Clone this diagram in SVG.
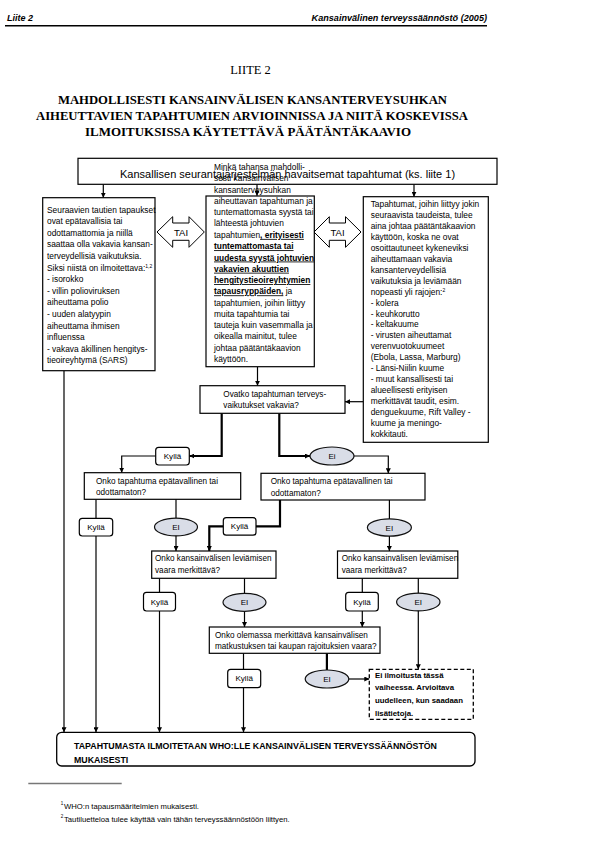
<svg xmlns="http://www.w3.org/2000/svg" width="593" height="844" viewBox="0 0 593 844">
<defs>
<style>
text{font-family:"Liberation Sans",Arial,sans-serif;fill:#000}
.serif{font-family:"Liberation Serif","Times New Roman",serif;font-weight:bold}
.box{fill:#fff;stroke:#000;stroke-width:1.2}
.lbl{fill:#fff;stroke:#000;stroke-width:1.2}
.ell{fill:#d9dde7;stroke:#111;stroke-width:1.2}
.ln{fill:none;stroke:#000;stroke-width:1.2}
.thk{stroke-width:2.2}
.body{font-size:8.4px}
.dq{font-size:8.2px}
.yes{font-size:8.1px;text-anchor:middle}
.no{font-size:8px;text-anchor:middle}
.bu{font-weight:bold;text-decoration:underline}
.sup{font-size:5px}
</style>
<marker id="ah" viewBox="0 0 10 10" refX="10" refY="5" markerWidth="5" markerHeight="5" markerUnits="userSpaceOnUse" orient="auto"><path d="M0,0 L10,5 L0,10 z" fill="#000"/></marker>
</defs>
<rect width="593" height="844" fill="#fff"/>

<g id="header">
<text x="7" y="20.7" font-size="9" font-weight="bold" font-style="italic">Liite 2</text>
<text x="487" y="20.7" font-size="9.1" font-weight="bold" font-style="italic" text-anchor="end">Kansainvälinen terveyssäännöstö (2005)</text>
<line x1="5" y1="25.7" x2="487" y2="25.7" stroke="#000" stroke-width="1.5"/>
</g>

<g id="title">
<text class="serif" x="250.5" y="74" font-size="12.5" font-weight="normal" style="font-weight:normal" text-anchor="middle">LIITE 2</text>
<text class="serif" x="58" y="104" font-size="13.5" textLength="389" lengthAdjust="spacingAndGlyphs">MAHDOLLISESTI KANSAINVÄLISEN KANSANTERVEYSUHKAN</text>
<text class="serif" x="36" y="120" font-size="13.5" textLength="432" lengthAdjust="spacingAndGlyphs">AIHEUTTAVIEN TAPAHTUMIEN ARVIOINNISSA JA NIITÄ KOSKEVISSA</text>
<text class="serif" x="85" y="135.5" font-size="13.5" textLength="326" lengthAdjust="spacingAndGlyphs">ILMOITUKSISSA KÄYTETTÄVÄ PÄÄTÄNTÄKAAVIO</text>
</g>

<g id="connectors">
<line class="ln" x1="103.3" y1="184.3" x2="103.3" y2="197.7" marker-end="url(#ah)"/>
<line class="ln" x1="257" y1="184.3" x2="257" y2="195.7" marker-end="url(#ah)"/>
<line class="ln" x1="414" y1="184.3" x2="414" y2="196.7" marker-end="url(#ah)"/>
<line class="ln" x1="257.5" y1="367" x2="257.5" y2="385.7" marker-end="url(#ah)"/>
<line class="ln" x1="363.3" y1="401.7" x2="345" y2="401.7" marker-end="url(#ah)"/>
<line class="ln" x1="64" y1="371" x2="64" y2="732.3" marker-end="url(#ah)"/>
<path class="ln thk" d="M221.7,413.3 V456 H189.3" marker-end="url(#ah)"/>
<path class="ln" d="M155.7,456 H121.7 V472.7" marker-end="url(#ah)"/>
<path class="ln thk" d="M279.3,413.3 V456 H310" marker-end="url(#ah)"/>
<path class="ln" d="M354,456 H388.3 V473.3" marker-end="url(#ah)"/>
<line class="ln" x1="96" y1="499.3" x2="96" y2="732.3" marker-end="url(#ah)"/>
<line class="ln" x1="176" y1="499.3" x2="176" y2="551" marker-end="url(#ah)"/>
<path class="ln thk" d="M280,500 V526.4 H256"/>
<path class="ln thk" d="M223.3,526.4 H209.3 V551" marker-end="url(#ah)"/>
<line class="ln" x1="389.4" y1="500" x2="389.4" y2="551" marker-end="url(#ah)"/>
<line class="ln" x1="159.5" y1="578.3" x2="159.5" y2="732.3" marker-end="url(#ah)"/>
<line class="ln" x1="244.5" y1="578.3" x2="244.5" y2="627" marker-end="url(#ah)"/>
<line class="ln" x1="362.3" y1="578.3" x2="362.3" y2="627" marker-end="url(#ah)"/>
<line class="ln" x1="418.3" y1="578.3" x2="418.3" y2="669.3" marker-end="url(#ah)"/>
<line class="ln" x1="243.5" y1="653.3" x2="243.5" y2="732.3" marker-end="url(#ah)"/>
<line class="ln thk" x1="326.9" y1="653.3" x2="326.9" y2="670"/>
<line class="ln" x1="348.7" y1="679" x2="369.3" y2="679" marker-end="url(#ah)"/>
</g>

<g id="n-top">
<rect class="box" x="78" y="158.3" width="419" height="26"/>
<text x="120" y="178" font-size="11">Kansallisen seurantajärjestelmän havaitsemat tapahtumat (ks. liite 1)</text>
</g>

<g id="n-left">
<rect class="box" x="42.7" y="197.7" width="112.3" height="173"/>
<text class="body">
<tspan x="47" y="212.7">Seuraavien tautien tapaukset</tspan>
<tspan x="47" y="224.3">ovat epätavallisia tai</tspan>
<tspan x="47" y="235.9">odottamattomia ja niillä</tspan>
<tspan x="47" y="247.4">saattaa olla vakavia kansan-</tspan>
<tspan x="47" y="259">terveydellisiä vaikutuksia.</tspan>
<tspan x="47" y="270.6">Siksi niistä on ilmoitettava:</tspan><tspan class="sup" dy="-3">1,2</tspan>
<tspan x="47" y="282.2">- isorokko</tspan>
<tspan x="47" y="293.8">- villin polioviruksen</tspan>
<tspan x="47" y="305.3">aiheuttama polio</tspan>
<tspan x="47" y="316.9">- uuden alatyypin</tspan>
<tspan x="47" y="328.5">aiheuttama ihmisen</tspan>
<tspan x="47" y="340.1">influenssa</tspan>
<tspan x="47" y="351.7">- vakava äkillinen hengitys-</tspan>
<tspan x="47" y="363.2">tieoireyhtymä (SARS)</tspan>
</text>
</g>

<g id="tai-left">
<polygon points="157,232 172.7,216.7 172.7,223 189,223 189,216.7 204.3,232 189,247.3 189,240.3 172.7,240.3 172.7,247.3" fill="#fff" stroke="#000" stroke-width="1"/>
<text x="181" y="235.5" font-size="9.5" text-anchor="middle">TAI</text>
</g>

<g id="n-middle">
<rect class="box" x="206" y="196" width="108.3" height="170.7"/>
<text class="body">
<tspan x="214" y="170">Minkä tahansa mahdolli-</tspan>
<tspan x="214" y="181.3">sesti kansainvälisen</tspan>
<tspan x="214" y="192.5">kansanterveysuhkan</tspan>
<tspan x="214" y="203.8">aiheuttavan tapahtuman ja</tspan>
<tspan x="214" y="215">tuntemattomasta syystä tai</tspan>
<tspan x="214" y="226.3">lähteestä johtuvien</tspan>
<tspan x="214" y="237.9">tapahtumien</tspan><tspan class="bu">, erityisesti</tspan>
<tspan x="214" y="249.2" class="bu">tuntemattomasta tai</tspan>
<tspan x="214" y="260.5" class="bu">uudesta syystä johtuvien</tspan>
<tspan x="214" y="271.7" class="bu">vakavien akuuttien</tspan>
<tspan x="214" y="283" class="bu">hengitystieoireyhtymien</tspan>
<tspan x="214" y="294.3" class="bu">tapausryppäiden,</tspan><tspan> ja</tspan>
<tspan x="214" y="305.5">tapahtumien, joihin liittyy</tspan>
<tspan x="214" y="316.8">muita tapahtumia tai</tspan>
<tspan x="214" y="328">tauteja kuin vasemmalla ja</tspan>
<tspan x="214" y="339.3">oikealla mainitut, tulee</tspan>
<tspan x="214" y="350.6">johtaa päätäntäkaavion</tspan>
<tspan x="214" y="361.8">käyttöön.</tspan>
</text>
</g>

<g id="tai-right">
<polygon points="314,232 329.3,216.7 329.3,223 345.5,223 345.5,216.7 361,232 345.5,247.3 345.5,240.3 329.3,240.3 329.3,247.3" fill="#fff" stroke="#000" stroke-width="1"/>
<text x="337.5" y="235.5" font-size="9.5" text-anchor="middle">TAI</text>
</g>

<g id="n-right">
<rect class="box" x="363.3" y="196.7" width="125" height="245.6"/>
<text class="body">
<tspan x="370.7" y="207.3">Tapahtumat, joihin liittyy jokin</tspan>
<tspan x="370.7" y="218.2">seuraavista taudeista, tulee</tspan>
<tspan x="370.7" y="229.1">aina johtaa päätäntäkaavion</tspan>
<tspan x="370.7" y="240.1">käyttöön, koska ne ovat</tspan>
<tspan x="370.7" y="251">osoittautuneet kykeneviksi</tspan>
<tspan x="370.7" y="261.9">aiheuttamaan vakavia</tspan>
<tspan x="370.7" y="272.8">kansanterveydellisiä</tspan>
<tspan x="370.7" y="283.7">vaikutuksia ja leviämään</tspan>
<tspan x="370.7" y="294.7">nopeasti yli rajojen:</tspan><tspan class="sup" dy="-3">2</tspan>
<tspan x="370.7" y="305.6">- kolera</tspan>
<tspan x="370.7" y="316.5">- keuhkorutto</tspan>
<tspan x="370.7" y="327.4">- keltakuume</tspan>
<tspan x="370.7" y="338.3">- virusten aiheuttamat</tspan>
<tspan x="370.7" y="349.3">verenvuotokuumeet</tspan>
<tspan x="370.7" y="360.2">(Ebola, Lassa, Marburg)</tspan>
<tspan x="370.7" y="371.1">- Länsi-Niilin kuume</tspan>
<tspan x="370.7" y="382">- muut kansallisesti tai</tspan>
<tspan x="370.7" y="392.9">alueellisesti erityisen</tspan>
<tspan x="370.7" y="403.9">merkittävät taudit, esim.</tspan>
<tspan x="370.7" y="414.8">denguekuume, Rift Valley -</tspan>
<tspan x="370.7" y="425.7">kuume ja meningo-</tspan>
<tspan x="370.7" y="436.6">kokkitauti.</tspan>
</text>
</g>

<g id="d1">
<rect class="box" x="200" y="385.7" width="145" height="27.6"/>
<text class="dq"><tspan x="223.3" y="397">Ovatko tapahtuman terveys-</tspan><tspan x="223.3" y="407.8">vaikutukset vakavia?</tspan></text>
</g>

<g id="k1"><rect class="lbl" x="155.7" y="447.3" width="33.6" height="17.7" rx="3"/><text class="yes" x="172.5" y="459">Kyllä</text></g>
<g id="e1"><ellipse class="ell" cx="332" cy="456" rx="22" ry="9"/><text class="no" x="332" y="459">Ei</text></g>

<g id="d2">
<rect class="box" x="84.3" y="472.7" width="156.4" height="26.6"/>
<text class="dq"><tspan x="96" y="483.6">Onko tapahtuma epätavallinen tai</tspan><tspan x="96" y="495.4">odottamaton?</tspan></text>
</g>

<g id="d3">
<rect class="box" x="261" y="473.3" width="164" height="26.7"/>
<text class="dq"><tspan x="270.7" y="484">Onko tapahtuma epätavallinen tai</tspan><tspan x="270.7" y="495.8">odottamaton?</tspan></text>
</g>

<g id="k2"><rect class="lbl" x="79.3" y="518.3" width="33.4" height="17.7" rx="3"/><text class="yes" x="96" y="530">Kyllä</text></g>
<g id="e2"><ellipse class="ell" cx="176" cy="527" rx="21.5" ry="8.8"/><text class="no" x="176" y="530">EI</text></g>
<g id="k3"><rect class="lbl" x="223.3" y="517.7" width="32.7" height="17.5" rx="3"/><text class="yes" x="239.6" y="529.4">Kyllä</text></g>
<g id="e3"><ellipse class="ell" cx="389.4" cy="527.5" rx="22" ry="8.6"/><text class="no" x="389.4" y="530.5">EI</text></g>

<g id="d4">
<rect class="box" x="151.7" y="551" width="124.3" height="27.3"/>
<text class="dq"><tspan x="155" y="561">Onko kansainvälisen leviämisen</tspan><tspan x="155" y="572.5">vaara merkittävä?</tspan></text>
</g>

<g id="d5">
<rect class="box" x="337.5" y="551" width="120.3" height="27.3"/>
<text class="dq"><tspan x="341.7" y="561">Onko kansainvälisen leviämisen</tspan><tspan x="341.7" y="572.5">vaara merkittävä?</tspan></text>
</g>

<g id="k4"><rect class="lbl" x="143.5" y="592.3" width="32" height="18.7" rx="3"/><text class="yes" x="159.5" y="604.5">Kyllä</text></g>
<g id="e4"><ellipse class="ell" cx="244.5" cy="602.3" rx="21.5" ry="9"/><text class="no" x="244.5" y="605.3">EI</text></g>
<g id="k5"><rect class="lbl" x="345.7" y="592.3" width="32.6" height="18.7" rx="3"/><text class="yes" x="362" y="604.5">Kyllä</text></g>
<g id="e5"><ellipse class="ell" cx="418.3" cy="602" rx="21.7" ry="8.8"/><text class="no" x="418.3" y="605">EI</text></g>

<g id="d6">
<rect class="box" x="209.3" y="627" width="170.7" height="26.3"/>
<text class="dq"><tspan x="215" y="637.6">Onko olemassa merkittävä kansainvälisen</tspan><tspan x="215" y="649.4">matkustuksen tai kaupan rajoituksien vaara?</tspan></text>
</g>

<g id="k6"><rect class="lbl" x="227.7" y="669.3" width="33" height="18.4" rx="3"/><text class="yes" x="244.2" y="681.3">Kyllä</text></g>
<g id="e6"><ellipse class="ell" cx="327" cy="679" rx="21.8" ry="9"/><text class="no" x="327" y="682">EI</text></g>

<g id="n-wait">
<rect x="369.3" y="669.3" width="104" height="50" fill="#fff" stroke="#000" stroke-width="1.3" stroke-dasharray="4,2.5"/>
<text font-size="7.8" font-weight="bold">
<tspan x="375" y="677.8">Ei ilmoitusta tässä</tspan>
<tspan x="375" y="690.4">vaiheessa. Arvioitava</tspan>
<tspan x="375" y="703">uudelleen, kun saadaan</tspan>
<tspan x="375" y="715.5">lisätietoja.</tspan>
</text>
</g>

<g id="n-final">
<rect x="56.7" y="732.3" width="418.3" height="33.7" rx="5" fill="#fff" stroke="#000" stroke-width="1.3"/>
<text font-size="8.8" font-weight="bold"><tspan x="74" y="749.3">TAPAHTUMASTA ILMOITETAAN WHO:LLE KANSAINVÄLISEN TERVEYSSÄÄNNÖSTÖN</tspan><tspan x="74" y="762.7">MUKAISESTI</tspan></text>
</g>

<g id="footnotes">
<line x1="28.3" y1="783.5" x2="121.7" y2="783.5" stroke="#777" stroke-width="1.5"/>
<text font-size="7.7"><tspan x="60.7" y="804.5" font-size="4.5">1</tspan><tspan x="64" y="808.5">WHO:n tapausmääritelmien mukaisesti.</tspan></text>
<text font-size="7.7"><tspan x="60.7" y="817.5" font-size="4.5">2</tspan><tspan x="64" y="821.7">Tautiluetteloa tulee käyttää vain tähän terveyssäännöstöön liittyen.</tspan></text>
</g>
</svg>
